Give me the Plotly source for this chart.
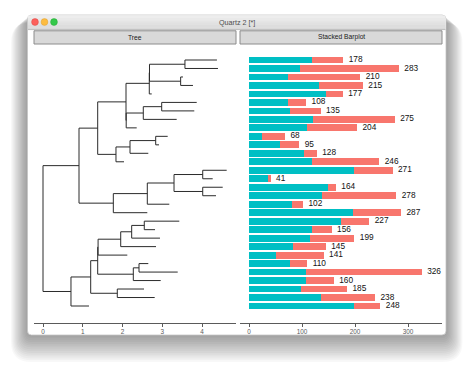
import re
import plotly.graph_objects as go

W, H = 474, 376

# ---------------- data ----------------
tree_newick = (
    "(((((((t1:0.805,t2:0.831):0.892,(t3:0.058,t4:0.31):0.784):0.005,t5:0.061):0.586,"
    "(((t6:0.881,t7:0.82):0.463,t8:0.84):0.43,t9:0.264):0.005):0.712,"
    "(((t10:0.302,t11:0.083):0.646,t12:0.46):0.353,t13:0.202):0.46):0.47,"
    "((((t14:0.603,t15:0.251):0.722,(t16:0.503,t17:0.334):0.722):0.672,t18:0.553):0.855,t19:0.855):0.863):0.906,"
    "(((((((t20:0.881,t21:0.27):0.317,t22:0.712):0.276,t23:0.888):0.569,t24:0.735):0.01,"
    "((t25:0.234,t26:0.974):0.143,t27:0.689):0.896):0.176,(t28:0.672,t29:0.941):0.669):0.496,t30:0.453):0.704);"
)

tip_labels = [f"t{i}" for i in range(1, 31)]
teal_values = [118, 96, 74, 133, 145, 74, 77, 121, 110, 24, 58, 104, 118, 198, 36,
               149, 137, 81, 196, 173, 118, 116, 83, 50, 77, 107, 107, 99, 135, 198]
salmon_values = [60, 187, 136, 82, 32, 34, 58, 154, 94, 44, 37, 24, 128, 73, 5,
                 15, 141, 21, 91, 54, 38, 83, 62, 91, 33, 219, 53, 86, 103, 50]
tree_ticks = [0, 1, 2, 3, 4]
bar_ticks = [0, 100, 200, 300]
strip_labels = ["Tree", "Stacked Barplot"]
window_title = "Quartz 2 [*]"

TEAL = "#00BFC4"
SALMON = "#F8766D"
FONT = "Liberation Sans, Arial, sans-serif"


# ---------------- tree parsing & layout ----------------
def parse_newick(s):
    s = s.replace(" ", "").rstrip(";")
    pos = 0

    def node():
        nonlocal pos
        children = []
        if s[pos] == "(":
            pos += 1
            while True:
                children.append(node())
                if s[pos] == ",":
                    pos += 1
                    continue
                if s[pos] == ")":
                    pos += 1
                    break
        m = re.match(r"[^:,()]*", s[pos:])
        name = m.group(0)
        pos += len(name)
        length = 0.0
        if pos < len(s) and s[pos] == ":":
            m = re.match(r":([0-9.eE+-]+)", s[pos:])
            length = float(m.group(1))
            pos += len(m.group(0))
        return {"name": name, "len": length, "children": children}

    return node()


tree = parse_newick(tree_newick)
tip_pos = {name: i + 1 for i, name in enumerate(tip_labels)}
seg_x, seg_y = [], []


def layout(n, parent_depth, is_root=False):
    x = parent_depth + n["len"]
    if not n["children"]:
        y = tip_pos[n["name"]]
    else:
        ys = [layout(c, x) for c in n["children"]]
        y = (min(ys) + max(ys)) / 2
        seg_x.extend([x, x, None])
        seg_y.extend([min(ys), max(ys), None])
    if not is_root:
        seg_x.extend([parent_depth, x, None])
        seg_y.extend([y, y, None])
    return y


layout(tree, 0.0, is_root=True)

positions = [tip_pos[t] for t in tip_labels]
totals = [a + b for a, b in zip(teal_values, salmon_values)]


# ---------------- helpers ----------------
def fx(px):
    return px / W


def fy(py):
    return 1 - py / H


def rrect(x0, y0, x1, y1, r):
    return (f"M {fx(x0 + r)} {fy(y0)} L {fx(x1 - r)} {fy(y0)} Q {fx(x1)} {fy(y0)} {fx(x1)} {fy(y0 + r)} "
            f"L {fx(x1)} {fy(y1 - r)} Q {fx(x1)} {fy(y1)} {fx(x1 - r)} {fy(y1)} "
            f"L {fx(x0 + r)} {fy(y1)} Q {fx(x0)} {fy(y1)} {fx(x0)} {fy(y1 - r)} "
            f"L {fx(x0)} {fy(y0 + r)} Q {fx(x0)} {fy(y0)} {fx(x0 + r)} {fy(y0)} Z")


shapes = []
# window shadow
for i in range(16):
    shapes.append(dict(type="path", xref="paper", yref="paper", layer="below",
                       path=rrect(27.5 - i * 1.1, 15 + i * 0.5, 446 + i * 1.1, 335 + i * 1.8, 5 + i),
                       fillcolor="rgba(0,0,0,0.026)", line=dict(width=0)))
# window body
shapes.append(dict(type="path", xref="paper", yref="paper", layer="below",
                   path=rrect(27.5, 15, 446, 335, 4), fillcolor="white",
                   line=dict(color="#c4c4c4", width=0.8)))
# title bar bands (gradient approximation)
bands = ["#ededed", "#e9e9e9", "#e5e5e5", "#e1e1e1", "#dddddd", "#d9d9d9"]
bh = 14.0 / len(bands)
for i, c in enumerate(bands):
    shapes.append(dict(type="rect", xref="paper", yref="paper", layer="below",
                       x0=fx(28), x1=fx(445.5), y0=fy(15.6 + i * bh), y1=fy(15.6 + (i + 1) * bh + 0.3),
                       fillcolor=c, line=dict(width=0)))
shapes.append(dict(type="line", xref="paper", yref="paper", layer="below",
                   x0=fx(28), x1=fx(445.5), y0=fy(29.6), y1=fy(29.6),
                   line=dict(color="#b8b8b8", width=0.8)))
# traffic lights
for cx, col, edge in [(35, "#fc605c", "#de4a45"), (44.5, "#fdbc40", "#dea236"), (54, "#34c84a", "#27aa35")]:
    shapes.append(dict(type="circle", xref="paper", yref="paper", layer="below",
                       x0=fx(cx - 3.4), x1=fx(cx + 3.4), y0=fy(22 - 3.4), y1=fy(22 + 3.4),
                       fillcolor=col, line=dict(color=edge, width=0.5)))
# strips
strip_boxes = [(34, 236), (240, 442)]
for (x0, x1) in strip_boxes:
    shapes.append(dict(type="rect", xref="paper", yref="paper", layer="below",
                       x0=fx(x0), x1=fx(x1), y0=fy(44), y1=fy(30.8),
                       fillcolor="#d9d9d9", line=dict(color="#8c8c8c", width=1)))

annotations = [dict(text=window_title, x=fx(237), y=fy(22), xref="paper", yref="paper",
                    showarrow=False, xanchor="center", yanchor="middle",
                    font=dict(family=FONT, size=7.2, color="#4d4d4d"))]
for (x0, x1), lab in zip(strip_boxes, strip_labels):
    annotations.append(dict(text=lab, x=fx((x0 + x1) / 2), y=fy(37.4), xref="paper", yref="paper",
                            showarrow=False, xanchor="center", yanchor="middle",
                            font=dict(family=FONT, size=6.7, color="#1a1a1a")))

# ---------------- figure ----------------
fig = go.Figure()

fig.add_trace(go.Scatter(x=seg_x, y=seg_y, mode="lines", xaxis="x", yaxis="y",
                         line=dict(color="#2b2b2b", width=1), hoverinfo="skip", showlegend=False))

fig.add_trace(go.Bar(x=teal_values, y=positions, orientation="h", xaxis="x2", yaxis="y2",
                     marker=dict(color=TEAL, line=dict(width=0)), width=0.8, showlegend=False))
fig.add_trace(go.Bar(x=salmon_values, y=positions, orientation="h", xaxis="x2", yaxis="y2",
                     marker=dict(color=SALMON, line=dict(width=0)), width=0.8, showlegend=False))
fig.add_trace(go.Scatter(x=totals, y=positions, mode="markers+text", xaxis="x2", yaxis="y2",
                         text=[str(t) for t in totals], textposition="middle right",
                         marker=dict(size=7, color="rgba(0,0,0,0)"),
                         textfont=dict(family=FONT, size=8.3, color="#111111"),
                         hoverinfo="skip", showlegend=False))

# y mapping: tip 1 at 60px, tip 30 at 306px; panel spans 45px..323px
ppu = (306 - 60) / 29
y_top = 1 - (60 - 45) / ppu
y_bot = 30 + (323 - 306) / ppu
ydom = [fy(323), fy(45)]

axis_common = dict(showgrid=False, zeroline=False, showline=True, linecolor="#5a5a5a", linewidth=1,
                   ticks="outside", ticklen=2.5, tickwidth=0.8, tickcolor="#5a5a5a",
                   tickfont=dict(family=FONT, size=6.4, color="#5a5a5a"), fixedrange=True)

tpx = (202 - 43) / 4.0
bpx = (408 - 249) / 300.0
fig.update_layout(
    width=W, height=H, margin=dict(l=0, r=0, t=0, b=0),
    paper_bgcolor="white", plot_bgcolor="rgba(0,0,0,0)",
    barmode="stack", bargap=0.2,
    shapes=shapes, annotations=annotations,
    xaxis=dict(domain=[fx(34), fx(236)], range=[(34 - 43) / tpx, (236 - 43) / tpx],
               tickvals=tree_ticks, anchor="y", **axis_common),
    yaxis=dict(domain=ydom, range=[y_bot, y_top], visible=False, anchor="x"),
    xaxis2=dict(domain=[fx(240), fx(442)], range=[(240 - 249) / bpx, (442 - 249) / bpx],
                tickvals=bar_ticks, anchor="y2", **axis_common),
    yaxis2=dict(domain=ydom, range=[y_bot, y_top], visible=False, anchor="x2"),
)

fig.write_html("out.html", config={"displayModeBar": False},
               post_script="document.body.style.margin='0';document.body.style.overflow='hidden';")
